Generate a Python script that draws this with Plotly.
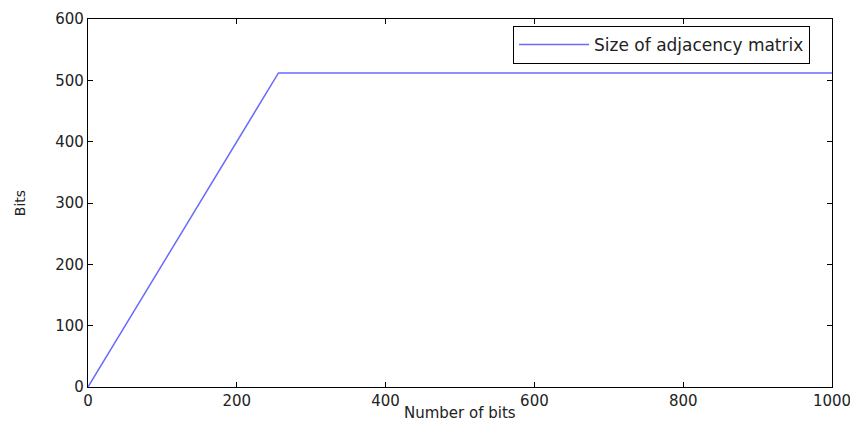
import plotly.graph_objects as go

n_bits = [0, 256, 1000]
size_bits = [0, 512, 512]
series_name = "Size of adjacency matrix"
x_ticks = [0, 200, 400, 600, 800, 1000]
y_ticks = [0, 100, 200, 300, 400, 500, 600]
x_title = "Number of bits"
y_title = "Bits"

FONT = "DejaVu Sans, Liberation Sans, Arial"

fig = go.Figure()
fig.add_trace(go.Scatter(x=n_bits, y=size_bits, mode="lines", name=series_name,
                         line=dict(color="#6a6aff", width=1.5)))

axis_common = dict(showgrid=False, zeroline=False, showline=True, linecolor="black",
                   linewidth=1.2, mirror="ticks", ticks="inside", ticklen=5,
                   tickcolor="black", automargin=False,
                   tickfont=dict(family=FONT, size=15, color="#222"))

fig.update_layout(
    width=850, height=415,
    margin=dict(l=80, r=26, t=11, b=36, autoexpand=False),
    plot_bgcolor="white", paper_bgcolor="white",
    showlegend=True,
    legend=dict(x=0.9705, y=0.981, xanchor="right", yanchor="top",
                bordercolor="black", borderwidth=1, bgcolor="white",
                font=dict(family=FONT, size=17, color="#222"),
                itemwidth=70, tracegroupgap=0),
    xaxis=dict(range=[0, 1000], tickvals=x_ticks, ticklabelstandoff=0, **axis_common),
    yaxis=dict(range=[0, 600], tickvals=y_ticks, **axis_common,
               title=dict(text=y_title, standoff=26,
                          font=dict(family=FONT, size=14, color="#222"))),
)
fig.add_annotation(text=x_title, xref="paper", yref="paper", x=0.5, y=-0.072,
                   xanchor="center", yanchor="middle", showarrow=False,
                   font=dict(family=FONT, size=15, color="#222"))
fig.write_html("out.html")
